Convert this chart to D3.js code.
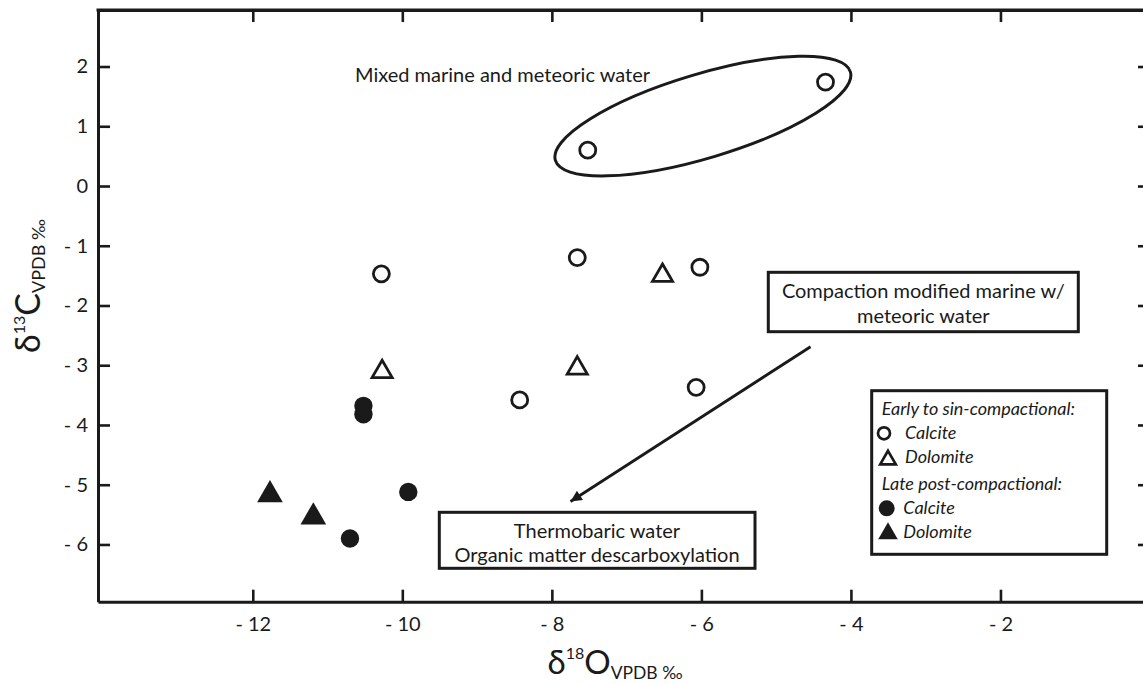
<!DOCTYPE html>
<html><head><meta charset="utf-8">
<script src="https://cdn.jsdelivr.net/npm/d3@7"></script>
<style>body{margin:0;background:#fff} svg{display:block}</style>
</head><body><svg id="c" width="1143" height="684"></svg>
<script>
// ---- data ----
const xTicks = [-12, -10, -8, -6, -4, -2];
const yTicks = [2, 1, 0, -1, -2, -3, -4, -5, -6];
const earlyCalciteX = [-7.52, -4.34, -10.28, -7.66, -6.02, -8.43, -6.07];
const earlyCalciteY = [0.60, 1.74, -1.47, -1.20, -1.36, -3.58, -3.37];
const earlyDolomiteX = [-6.52, -10.27, -7.66];
const earlyDolomiteY = [-1.50, -3.11, -3.05];
const lateCalciteX = [-10.52, -10.52, -9.92, -10.70];
const lateCalciteY = [-3.68, -3.82, -5.12, -5.90];
const lateDolomiteX = [-11.77, -11.19];
const lateDolomiteY = [-5.17, -5.54];
const legendItems = ["Early to sin-compactional:", "Calcite", "Dolomite", "Late post-compactional:", "Calcite", "Dolomite"];

// ---- layout ----
const FONT = "Lato, 'Open Sans', sans-serif";
const INK = "#1a1a1a";
const svg = d3.select("#c");
const x = d3.scaleLinear().domain([-14.07, 0]).range([98, 1150]);
const y = d3.scaleLinear().domain([-6.958, 2.946]).range([601.7, 10]);
const fmt = d => d < 0 ? "- " + Math.abs(d) : String(d);
const none = () => "";

function styleAxis(g) {
  g.attr("font-family", FONT).attr("font-size", 20);
  g.select(".domain").attr("stroke", INK).attr("stroke-width", 3);
  g.selectAll(".tick line").attr("stroke", INK).attr("stroke-width", 2.6);
  g.selectAll(".tick text").attr("fill", INK);
}
svg.append("g").attr("transform", `translate(0,${y.range()[0]})`)
  .call(d3.axisBottom(x).tickValues(xTicks).tickSizeInner(-12).tickSizeOuter(0).tickPadding(15).tickFormat(fmt))
  .call(styleAxis);
svg.append("g").attr("transform", `translate(0,${y.range()[1]})`)
  .call(d3.axisTop(x).tickValues(xTicks).tickSizeInner(-12).tickSizeOuter(0).tickFormat(none))
  .call(styleAxis);
svg.append("g").attr("transform", `translate(${x.range()[0]},0)`)
  .call(d3.axisLeft(y).tickValues(yTicks).tickSizeInner(-12).tickSizeOuter(0).tickPadding(10).tickFormat(fmt))
  .call(styleAxis);
svg.append("g").attr("transform", `translate(${x.range()[1]},0)`)
  .call(d3.axisRight(y).tickValues(yTicks).tickSizeInner(-12).tickSizeOuter(0).tickFormat(none))
  .call(styleAxis);
svg.append("rect").attr("x", x.range()[0] - 1.5).attr("y", y.range()[1] - 1.5).attr("width", x.range()[1] - x.range()[0]).attr("height", 3)
  .attr("fill", INK);

// axis titles
const xl = svg.append("text").attr("x", 615).attr("y", 674).attr("text-anchor", "middle")
  .attr("font-family", FONT).attr("fill", INK);
xl.append("tspan").attr("font-size", 33).text("δ");
xl.append("tspan").attr("font-size", 16).attr("dy", -15).text("18");
xl.append("tspan").attr("font-size", 33).attr("dy", 15).text("O");
xl.append("tspan").attr("font-size", 17.5).attr("dy", 5).text("VPDB ‰");

const yl = svg.append("text").attr("transform", "translate(40,286) rotate(-90)").attr("text-anchor", "middle")
  .attr("font-family", FONT).attr("fill", INK);
yl.append("tspan").attr("font-size", 34).text("δ");
yl.append("tspan").attr("font-size", 16).attr("dy", -15).text("13");
yl.append("tspan").attr("font-size", 34).attr("dy", 15).text("C");
yl.append("tspan").attr("font-size", 18).attr("dy", 5).text("VPDB ‰");

// ---- annotations ----
const ec = [-5.98, 1.17];
svg.append("ellipse").attr("cx", 0).attr("cy", 0).attr("rx", 154).attr("ry", 42)
  .attr("transform", `translate(${x(ec[0])},${y(ec[1])}) rotate(-16.7)`)
  .attr("fill", "none").attr("stroke", INK).attr("stroke-width", 3);
svg.append("text").attr("x", 355).attr("y", 82).attr("font-family", FONT).attr("font-size", 20)
  .attr("fill", INK).text("Mixed marine and meteoric water");

svg.append("defs").append("marker").attr("id", "ah").attr("viewBox", "0 0 10 10")
  .attr("refX", 10).attr("refY", 5).attr("markerWidth", 6.5).attr("markerHeight", 4)
  .attr("markerUnits", "strokeWidth").attr("orient", "auto")
  .append("path").attr("d", "M0,0 L10,5 L0,10 Z").attr("fill", INK);
const arrowFrom = [-4.54, -2.69], arrowTo = [-7.75, -5.28];
svg.append("line").attr("x1", x(arrowFrom[0])).attr("y1", y(arrowFrom[1]))
  .attr("x2", x(arrowTo[0])).attr("y2", y(arrowTo[1]))
  .attr("stroke", INK).attr("stroke-width", 2.8).attr("marker-end", "url(#ah)");

function textBox(x0, y0, x1, y1, cx, lines) {
  svg.append("rect").attr("x", x0).attr("y", y0).attr("width", x1 - x0).attr("height", y1 - y0)
    .attr("fill", "#fff").attr("stroke", INK).attr("stroke-width", 3);
  lines.forEach(l => svg.append("text").attr("x", cx).attr("y", l[1]).attr("text-anchor", "middle")
    .attr("font-family", FONT).attr("font-size", 20).attr("fill", INK).text(l[0]));
}
textBox(768.3, 272.3, 1078.3, 331.7, 923.3, [["Compaction modified marine w/", 298.3], ["meteoric water", 323.3]]);
textBox(439.3, 512.3, 755, 568.3, 597, [["Thermobaric water", 538.3], ["Organic matter descarboxylation", 561.7]]);

// ---- data marks ----
const zipXY = (xs, ys) => xs.map((v, i) => [v, ys[i]]);
const tri = s => d3.symbol().type(d3.symbolTriangle).size(s)();
svg.append("g").selectAll("circle").data(zipXY(earlyCalciteX, earlyCalciteY)).join("circle")
  .attr("cx", d => x(d[0])).attr("cy", d => y(d[1])).attr("r", 8)
  .attr("fill", "none").attr("stroke", INK).attr("stroke-width", 2.8);
svg.append("g").selectAll("path").data(zipXY(earlyDolomiteX, earlyDolomiteY)).join("path")
  .attr("d", tri(175)).attr("transform", d => `translate(${x(d[0])},${y(d[1])})`)
  .attr("fill", "none").attr("stroke", INK).attr("stroke-width", 2.8).attr("stroke-linejoin", "miter");
svg.append("g").selectAll("circle").data(zipXY(lateCalciteX, lateCalciteY)).join("circle")
  .attr("cx", d => x(d[0])).attr("cy", d => y(d[1])).attr("r", 9.2).attr("fill", INK);
svg.append("g").selectAll("path").data(zipXY(lateDolomiteX, lateDolomiteY)).join("path")
  .attr("d", tri(285)).attr("transform", d => `translate(${x(d[0])},${y(d[1])})`)
  .attr("fill", INK);

// ---- legend ----
const lg = svg.append("g");
lg.append("rect").attr("x", 871.7).attr("y", 390.7).attr("width", 235).attr("height", 163.6)
  .attr("fill", "#fff").attr("stroke", INK).attr("stroke-width", 3);
const rows = [
  {t: legendItems[0], tx: 881.7, by: 415},
  {t: legendItems[1], tx: 905, by: 439.3, sym: "oc", sx: 884, sy: 433.3},
  {t: legendItems[2], tx: 905, by: 462.7, sym: "ot", sx: 888, sy: 459.8},
  {t: legendItems[3], tx: 881.7, by: 490},
  {t: legendItems[4], tx: 903.3, by: 514, sym: "fc", sx: 886.7, sy: 508.3},
  {t: legendItems[5], tx: 903.3, by: 538.3, sym: "ft", sx: 888, sy: 533.5}
];
rows.forEach(r => {
  lg.append("text").attr("x", r.tx).attr("y", r.by).attr("font-family", FONT).attr("font-style", "italic")
    .attr("font-size", 18).attr("fill", INK).text(r.t);
  if (r.sym === "oc") lg.append("circle").attr("cx", r.sx).attr("cy", r.sy).attr("r", 6)
    .attr("fill", "none").attr("stroke", INK).attr("stroke-width", 2.7);
  if (r.sym === "fc") lg.append("circle").attr("cx", r.sx).attr("cy", r.sy).attr("r", 8).attr("fill", INK);
  if (r.sym === "ot") lg.append("path").attr("d", tri(105)).attr("transform", `translate(${r.sx},${r.sy})`)
    .attr("fill", "none").attr("stroke", INK).attr("stroke-width", 2.7);
  if (r.sym === "ft") lg.append("path").attr("d", tri(165)).attr("transform", `translate(${r.sx},${r.sy})`)
    .attr("fill", INK);
});
</script></body></html>
